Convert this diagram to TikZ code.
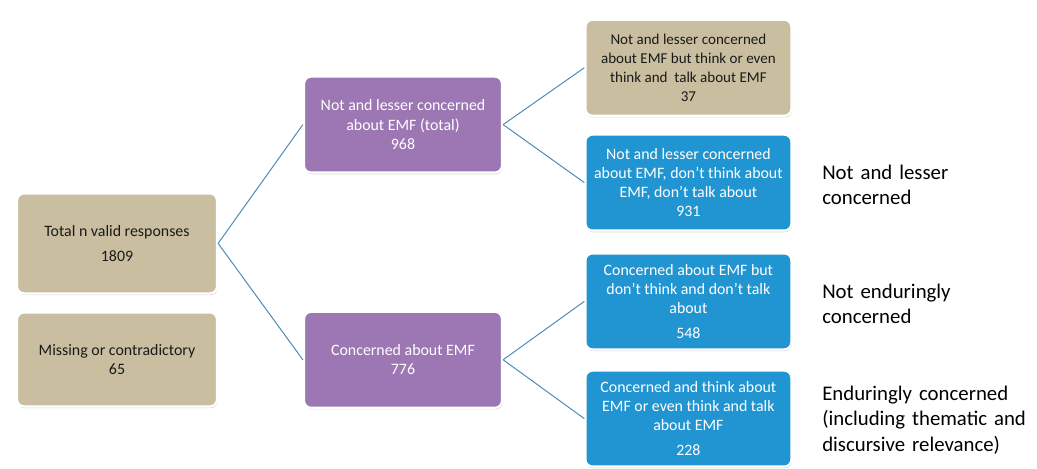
\documentclass[tikz,border=0pt]{standalone}
\usepackage{fontspec}
\setmainfont{Carlito}
\usepackage{xcolor}
\usetikzlibrary{shadows}
\definecolor{EMFTan}{HTML}{C9BE9F}
\definecolor{EMFPurple}{HTML}{9C77B3}
\definecolor{EMFBlue}{HTML}{2195D1}
\definecolor{EMFLine}{HTML}{4A8BB8}
\definecolor{EMFText}{HTML}{1A1A1A}

\tikzset{
  box/.style={rounded corners=5pt,draw=white,line width=1.6pt,align=center,
    minimum width=5.0cm,minimum height=2.4cm,inner sep=2pt,
    font=\fontsize{11.3}{13.6}\selectfont,
    drop shadow={shadow xshift=0.5pt,shadow yshift=-1.2pt,opacity=0.3}},
  tanbox/.style={box,fill=EMFTan,text=EMFText},
  purplebox/.style={box,fill=EMFPurple,text=white,minimum width=4.95cm},
  bluebox/.style={box,fill=EMFBlue,text=white,minimum width=5.15cm},
  link/.style={EMFLine,line width=0.7pt},
  sidelabel/.style={anchor=west,align=left,text width=5.4cm,inner sep=0pt,
    font=\fontsize{14.8}{17.8}\selectfont,text=black}
}

\begin{document}
\begin{tikzpicture}[x=1cm,y=1cm]
\path[use as bounding box] (0,0) rectangle (25.925,11.725);
% left column
\node[tanbox,minimum height=2.5cm] (total) at (2.925,5.64) {Total n valid responses\\[4pt]1809};
\node[tanbox,minimum height=2.35cm] (missing) at (2.925,2.74) {Missing or contradictory\\65};
% middle column
\node[purplebox] (lesser) at (10.075,8.61) {Not and lesser concerned\\about EMF (total)\\968};
\node[purplebox] (concerned) at (10.075,2.73) {Concerned about EMF\\776};
% right column
\node[tanbox,minimum width=5.15cm,font=\fontsize{10.7}{13.4}\selectfont] (thinktalk) at (17.21,10.03) {Not and lesser concerned\\about EMF but think or even\\think and\ \ talk about EMF\\37};
\node[bluebox] (nothink) at (17.21,7.16) {Not and lesser concerned\\about EMF, don't think about\\EMF, don't talk about\\931};
\node[bluebox] (notalk) at (17.21,4.19) {Concerned about EMF but\\don't think and don't talk\\about\\[4pt]548};
\node[bluebox] (enduring) at (17.21,1.26) {Concerned and think about\\EMF or even think and talk\\about EMF\\[4pt]228};
% connectors
\draw[link] (total.east) -- (lesser.west);
\draw[link] (total.east) -- (concerned.west);
\draw[link] (lesser.east) -- (thinktalk.west);
\draw[link] (lesser.east) -- (nothink.west);
\draw[link] (concerned.east) -- (notalk.west);
\draw[link] (concerned.east) -- (enduring.west);
% group labels
\node[sidelabel] (lbllesser) at (20.55,7.1) {Not and lesser\\concerned};
\node[sidelabel] (lblnot) at (20.55,4.12) {Not enduringly\\concerned};
\node[sidelabel] (lblenduring) at (20.55,1.22) {Enduringly concerned\\(including thematic and\\discursive relevance)};
\end{tikzpicture}
\end{document}
